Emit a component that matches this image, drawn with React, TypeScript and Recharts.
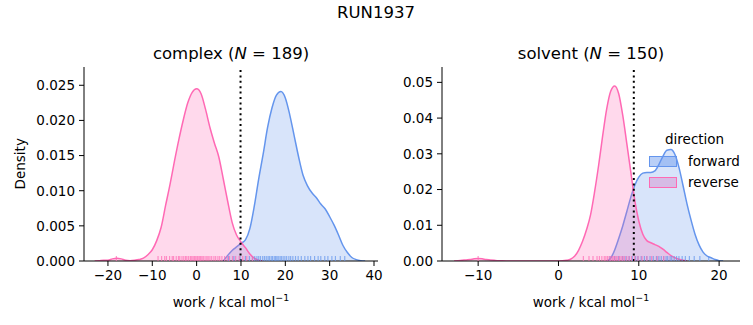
import React from "react";
import {
  ComposedChart,
  Area,
  Scatter,
  XAxis,
  YAxis,
  ReferenceLine,
} from "recharts";

const BLUE = "#6495ED";
const PINK = "#FF69B4";
const FONT = "'DejaVu Sans', sans-serif";

// complex leg: KDE grid (step 1) and densities
const complexGrid = [
  -23, -22, -21, -20, -19, -18, -17, -16, -15, -14, -13, -12, -11, -10, -9, -8,
  -7, -6, -5, -4, -3, -2, -1, 0, 1, 2, 3, 4, 5, 6, 7, 8, 9, 10, 11, 12, 13, 14,
  15, 16, 17, 18, 19, 20, 21, 22, 23, 24, 25, 26, 27, 28, 29, 30, 31, 32, 33,
  34, 35, 36, 37, 38,
];
// reverse starts at x = -23
const complexReverse = [
  0, 0.00003, 0.0001, 0.0001, 0.0003, 0.0004, 0.0003, 0.0001, 0.00005, 0.0001,
  0.0002, 0.0004, 0.0009, 0.0016, 0.0029, 0.0048, 0.0079, 0.0109, 0.0142,
  0.0173, 0.0201, 0.0225, 0.024, 0.0245, 0.0238, 0.0216, 0.019, 0.0168, 0.0148,
  0.0117, 0.0085, 0.0055, 0.0037, 0.0027, 0.0019, 0.001, 0.0004, 0.0001, 0,
];
// forward starts at x = 6
const complexForward = [
  0, 0.0008, 0.0015, 0.002, 0.0025, 0.003, 0.0046, 0.0078, 0.0117, 0.0152,
  0.019, 0.0218, 0.0236, 0.0241, 0.0232, 0.0208, 0.0178, 0.0148, 0.0122,
  0.0107, 0.0097, 0.009, 0.0081, 0.0074, 0.0063, 0.0051, 0.0037, 0.0022,
  0.0012, 0.0005, 0.0002, 0.00005, 0,
];
const complexRugReverse = [
  -18.1, -8.7, -7.9, -7.2, -6.8, -6.1, -5.5, -5.2, -4.6, -4.1, -3.8, -3.3, -2.9,
  -2.5, -2.2, -1.8, -1.4, -1.1, -0.8, -0.5, -0.2, 0.1, 0.3, 0.6, 0.9, 1.2, 1.5,
  1.9, 2.3, 2.6, 3.0, 3.4, 3.9, 4.3, 4.8, 5.2, 5.7, 6.3, 6.9, 7.4, 8.1, 8.8,
  9.6, 10.4, 11.3, 12.6,
];
const complexRugForward = [
  7.2, 8.4, 9.8, 11.0, 11.9, 12.6, 13.1, 13.6, 14.0, 14.4, 14.9, 15.3, 15.7,
  16.1, 16.4, 16.8, 17.1, 17.5, 17.8, 18.1, 18.4, 18.8, 19.1, 19.5, 19.9, 20.3,
  20.8, 21.2, 21.7, 22.3, 22.9, 23.6, 24.4, 25.1, 25.7, 26.6, 27.4, 28.0, 28.9,
  29.6, 30.5, 31.3, 32.4, 33.4,
];
const complexXTicks = [-20, -10, 0, 10, 20, 30, 40];
const complexYTicks = [0, 0.005, 0.01, 0.015, 0.02, 0.025];
const complexCutoff = 9.9;

// solvent leg: KDE grid (step 0.5)
const solventGrid = [
  -13, -12.5, -12, -11.5, -11, -10.5, -10, -9.5, -9, -8.5, -8, -7.5, -7, -6.5,
  -6, -5.5, -5, -4.5, -4, -3.5, -3, -2.5, -2, -1.5, -1, -0.5, 0, 0.5, 1, 1.5, 2,
  2.5, 3, 3.5, 4, 4.5, 5, 5.5, 6, 6.5, 7, 7.5, 8, 8.5, 9, 9.5, 10, 10.5, 11,
  11.5, 12, 12.5, 13, 13.5, 14, 14.5, 15, 15.5, 16, 16.5, 17, 17.5, 18, 18.5,
  19, 19.5, 20, 20.5,
];
// reverse starts at x = -13
const solventReverse = [
  0, 0.0001, 0.0002, 0.0003, 0.0004, 0.0006, 0.0007, 0.0006, 0.0004, 0.0003,
  0.0002, 0.0001, 0.00005, 0.00002, 0, 0, 0, 0, 0, 0, 0, 0, 0, 0, 0, 0, 0.00002,
  0.00005, 0.0002, 0.0005, 0.0013, 0.003, 0.0055, 0.0088, 0.013, 0.0194, 0.0268,
  0.035, 0.0425, 0.0475, 0.049, 0.0468, 0.0408, 0.033, 0.025, 0.017, 0.0112,
  0.0075, 0.0057, 0.0051, 0.0046, 0.0041, 0.0033, 0.0024, 0.0015, 0.0009,
  0.0005, 0.0002, 0,
];
// forward starts at x = 6
const solventForward = [
  0, 0.0008, 0.0031, 0.0063, 0.0098, 0.0138, 0.0178, 0.0212, 0.0235, 0.0246,
  0.0248, 0.0248, 0.0252, 0.027, 0.0293, 0.031, 0.0312, 0.0298, 0.0262, 0.0212,
  0.016, 0.0115, 0.0075, 0.0045, 0.0025, 0.0014, 0.0009, 0.0004, 0.0001, 0,
];
const solventRugReverse = [
  -10.0, 3.1, 3.8, 4.3, 4.8, 5.1, 5.4, 5.7, 5.9, 6.1, 6.3, 6.5, 6.7, 6.9, 7.0,
  7.2, 7.4, 7.6, 7.8, 8.0, 8.2, 8.5, 8.8, 9.1, 9.5, 9.9, 10.4, 11.0, 11.6, 12.3,
  13.1,
];
const solventRugForward = [
  6.4, 7.0, 7.5, 8.0, 8.4, 8.8, 9.2, 9.6, 9.9, 10.3, 10.7, 11.0, 11.4, 11.8,
  12.2, 12.5, 12.8, 13.1, 13.4, 13.6, 13.9, 14.1, 14.4, 14.7, 15.0, 15.4, 15.8,
  16.3, 16.9, 17.6, 18.7,
];
const solventXTicks = [-10, 0, 10, 20];
const solventYTicks = [0, 0.01, 0.02, 0.03, 0.04, 0.05];
const solventCutoff = 9.38;

function buildTable(
  grid: number[],
  reverse: number[],
  forward: number[],
  forwardOffset: number
) {
  return grid.map((x, i) => ({
    x,
    reverse: i < reverse.length ? reverse[i] : null,
    forward:
      i >= forwardOffset && i - forwardOffset < forward.length
        ? forward[i - forwardOffset]
        : null,
  }));
}

const rug = (vals: number[]) => vals.map((x) => ({ x, y: 0 }));

const minus = (v: number) => String(v).replace("-", "\u2212");

const tickStyle = { fontSize: 13.5, fill: "#000", fontFamily: FONT };

function RugTick(color: string) {
  return (props: any) => (
    <line
      x1={props.cx}
      x2={props.cx}
      y1={props.cy}
      y2={props.cy - 5}
      stroke={color}
      strokeOpacity={0.7}
      strokeWidth={1.2}
    />
  );
}

function Panel(props: {
  left: number;
  width: number;
  marginLeft: number;
  marginRight: number;
  data: any[];
  xDomain: [number, number];
  yDomain: [number, number];
  xTicks: number[];
  yTicks: number[];
  yDigits: number;
  cutoff: number;
  rugRev: number[];
  rugFwd: number[];
}) {
  return (
    <div style={{ position: "absolute", left: props.left, top: 0 }}>
      <ComposedChart
        width={props.width}
        height={325}
        data={props.data}
        margin={{ top: 67, right: props.marginRight, bottom: 34, left: props.marginLeft }}
      >
        <XAxis
          dataKey="x"
          type="number"
          domain={props.xDomain}
          ticks={props.xTicks}
          allowDataOverflow
          tickFormatter={minus}
          tick={tickStyle}
          tickSize={5}
          tickMargin={4}
          height={30}
          stroke="#000"
          interval={0}
        />
        <YAxis
          type="number"
          domain={props.yDomain}
          ticks={props.yTicks}
          allowDataOverflow
          tickFormatter={(v: number) => v.toFixed(props.yDigits)}
          tick={tickStyle}
          tickSize={5}
          tickMargin={4}
          width={50}
          stroke="#000"
          interval={0}
        />
        <Area
          dataKey="forward"
          type="monotone"
          stroke={BLUE}
          strokeWidth={1.5}
          fill={BLUE}
          fillOpacity={0.25}
          isAnimationActive={false}
        />
        <Area
          dataKey="reverse"
          type="monotone"
          stroke={PINK}
          strokeWidth={1.5}
          fill={PINK}
          fillOpacity={0.25}
          isAnimationActive={false}
        />
        <Scatter
          data={rug(props.rugFwd)}
          dataKey="y"
          shape={RugTick(BLUE)}
          isAnimationActive={false}
        />
        <Scatter
          data={rug(props.rugRev)}
          dataKey="y"
          shape={RugTick(PINK)}
          isAnimationActive={false}
        />
        <ReferenceLine
          x={props.cutoff}
          stroke="#000"
          strokeWidth={2}
          strokeDasharray="2 3.4"
        />
      </ComposedChart>
    </div>
  );
}

function Text(props: {
  cx: number;
  cy: number;
  size: number;
  children: React.ReactNode;
}) {
  return (
    <div
      style={{
        position: "absolute",
        left: props.cx - 200,
        top: props.cy - props.size / 2,
        width: 400,
        textAlign: "center",
        fontSize: props.size,
        lineHeight: 1,
        fontFamily: FONT,
        color: "#000",
        whiteSpace: "nowrap",
      }}
    >
      {props.children}
    </div>
  );
}

function Legend() {
  const row = (color: string, fill: string, label: string, top: number) => (
    <div style={{ position: "absolute", left: 0, top, height: 14, display: "flex", alignItems: "center" }}>
      <div
        style={{
          width: 26,
          height: 9,
          border: `1px solid ${color}`,
          background: fill,
        }}
      />
      <span style={{ marginLeft: 11, fontSize: 13.5, fontFamily: FONT }}>{label}</span>
    </div>
  );
  return (
    <div style={{ position: "absolute", left: 649, top: 133, width: 100, height: 60 }}>
      <div
        style={{
          position: "absolute",
          left: 16,
          top: 0,
          fontSize: 13.5,
          lineHeight: 1,
          fontFamily: FONT,
        }}
      >
        direction
      </div>
      {row(BLUE, "rgba(100,149,237,0.45)", "forward", 21)}
      {row(PINK, "rgba(214,170,220,0.7)", "reverse", 42)}
    </div>
  );
}

export default function App() {
  const complexData = buildTable(complexGrid, complexReverse, complexForward, 29);
  const solventData = buildTable(solventGrid, solventReverse, solventForward, 38);
  return (
    <div
      style={{
        position: "absolute",
        left: 0,
        top: 0,
        width: 753,
        height: 325,
        background: "#fff",
        overflow: "hidden",
      }}
    >
      <Panel
        left={0}
        width={400}
        marginLeft={34}
        marginRight={22}
        data={complexData}
        xDomain={[-25.4, 40.9]}
        yDomain={[0, 0.0276]}
        xTicks={complexXTicks}
        yTicks={complexYTicks}
        yDigits={3}
        cutoff={complexCutoff}
        rugRev={complexRugReverse}
        rugFwd={complexRugForward}
      />
      <Panel
        left={380}
        width={373}
        marginLeft={12}
        marginRight={13}
        data={solventData}
        xDomain={[-14.5, 22.6]}
        yDomain={[0, 0.0543]}
        xTicks={solventXTicks}
        yTicks={solventYTicks}
        yDigits={2}
        cutoff={solventCutoff}
        rugRev={solventRugReverse}
        rugFwd={solventRugForward}
      />
      <Legend />
      <Text cx={376} cy={13} size={16.5}>RUN1937</Text>
      <Text cx={231} cy={54} size={16.5}>
        complex (<i>N</i> = 189)
      </Text>
      <Text cx={591} cy={54} size={16.5}>
        solvent (<i>N</i> = 150)
      </Text>
      <Text cx={231} cy={300} size={13.5}>
        work / kcal mol<sup style={{ fontSize: "70%" }}>{"\u22121"}</sup>
      </Text>
      <Text cx={591} cy={300} size={13.5}>
        work / kcal mol<sup style={{ fontSize: "70%" }}>{"\u22121"}</sup>
      </Text>
      <div
        style={{
          position: "absolute",
          left: 21 - 40,
          top: 164 - 7,
          width: 80,
          textAlign: "center",
          fontSize: 13.5,
          lineHeight: 1,
          fontFamily: FONT,
          transform: "rotate(-90deg)",
        }}
      >
        Density
      </div>
    </div>
  );
}
